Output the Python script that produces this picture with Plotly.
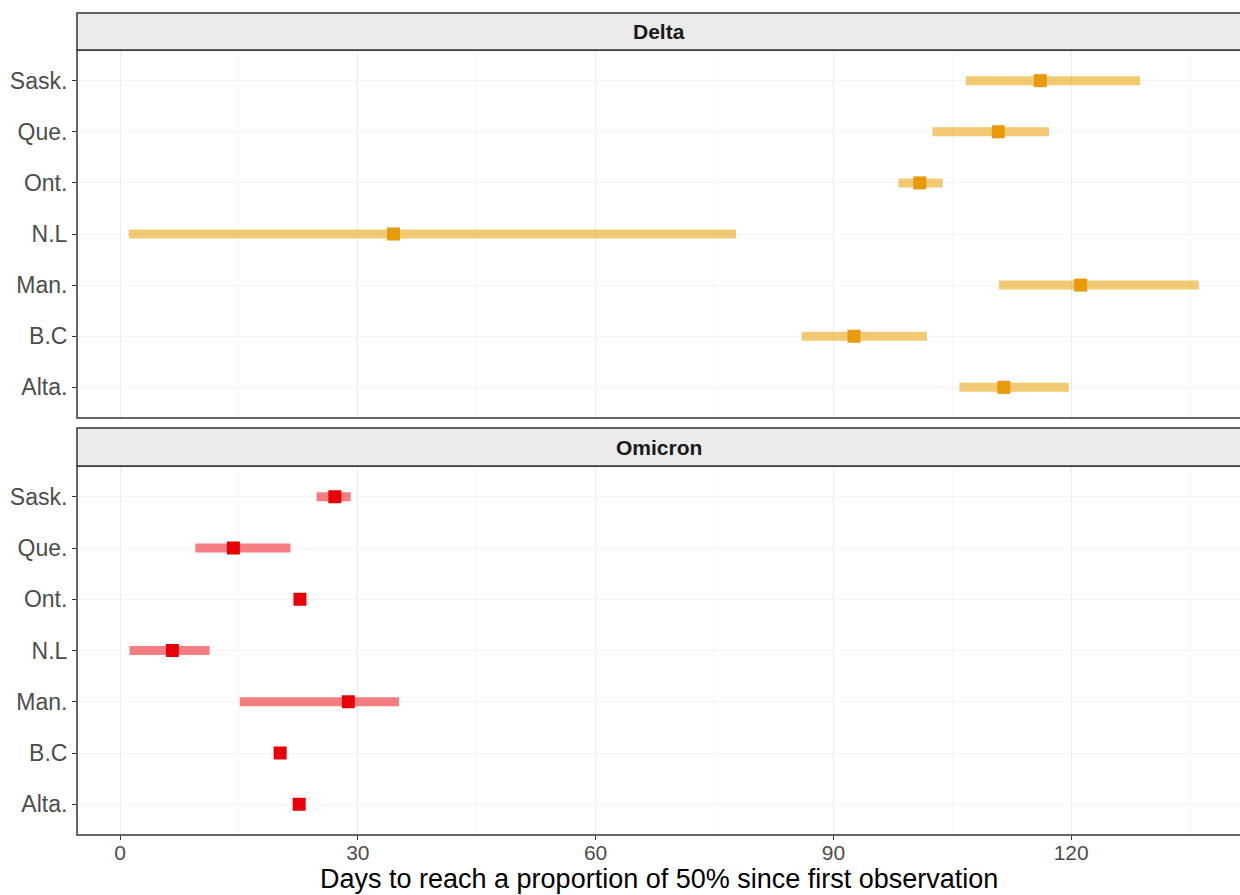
import plotly.graph_objects as go

provinces = ["Alta.", "B.C", "Man.", "N.L", "Ont.", "Que.", "Sask."]

delta_est = [111.5, 92.6, 121.2, 34.5, 100.9, 110.8, 116.1]
delta_lo = [105.9, 86.0, 110.9, 1.1, 98.2, 102.5, 106.7]
delta_hi = [119.7, 101.8, 136.1, 77.7, 103.8, 117.2, 128.7]

omicron_est = [22.6, 20.2, 28.8, 6.6, 22.7, 14.3, 27.1]
omicron_lo = [22.4, 20.0, 15.1, 1.2, 22.5, 9.5, 24.8]
omicron_hi = [22.8, 20.4, 35.2, 11.3, 22.9, 21.5, 29.1]

x_ticks = [0, 30, 60, 90, 120]
x_minor = [15, 45, 75, 105, 135]
x_title = "Days to reach a proportion of 50% since first observation"

FONT = "Liberation Sans, Arial, sans-serif"

fig = go.Figure()


def add_panel(est, lo, hi, line_col, pt_col, xa, ya):
    xs, ys = [], []
    for p, a, b in zip(provinces, lo, hi):
        xs += [a, b, None]
        ys += [p, p, None]
    fig.add_trace(go.Scatter(x=xs, y=ys, mode="lines",
                             line=dict(color=line_col, width=9),
                             xaxis=xa, yaxis=ya, showlegend=False,
                             hoverinfo="skip"))
    fig.add_trace(go.Scatter(x=est, y=provinces, mode="markers",
                             marker=dict(symbol="square", size=13, color=pt_col,
                                         line=dict(width=0)),
                             xaxis=xa, yaxis=ya, showlegend=False))


add_panel(delta_est, delta_lo, delta_hi, "rgba(230,159,0,0.55)", "#E99A0A", "x", "y")
add_panel(omicron_est, omicron_lo, omicron_hi, "rgba(235,20,25,0.55)", "#E80008", "x2", "y2")

W, H = 1240, 895
L, T, B = 77, 13, 60
plot_h = H - T - B


def py(pix):
    return (H - B - pix) / plot_h


axis_common = dict(
    range=[-5.43, 141.3],
    tickvals=x_ticks,
    showgrid=True, gridcolor="#EBEBEB", gridwidth=1,
    minor=dict(tickvals=x_minor, showgrid=True,
               gridcolor="#F5F5F5", gridwidth=1, ticks=""),
    showline=False,
    zeroline=False,
    tickfont=dict(family=FONT, size=21, color="#4D4D4D"),
)

y_common = dict(
    type="category", categoryorder="array", categoryarray=provinces,
    range=[-0.6, 6.6],
    showgrid=True, gridcolor="#F3F3F3", gridwidth=1,
    showline=False,
    zeroline=False, ticks="outside", ticklen=4, tickcolor="#333333",
    tickfont=dict(family=FONT, size=23, color="#4D4D4D"),
)

fig.update_layout(
    width=W, height=H,
    margin=dict(l=L, r=0, t=T, b=B, autoexpand=False),
    plot_bgcolor="white", paper_bgcolor="white",
    xaxis=dict(**axis_common, domain=[0, 1], anchor="y", showticklabels=False,
               ticks=""),
    yaxis=dict(**y_common, domain=[py(418), py(50)], anchor="x"),
    xaxis2=dict(**axis_common, domain=[0, 1], anchor="y2", matches="x",
                ticks="outside", ticklen=4, tickcolor="#333333",
                ticklabelstandoff=-5),
    yaxis2=dict(**y_common, domain=[0, py(466)], anchor="x2"),
)

border = dict(color="#333333", width=1.5)
# panel frames (right side lies beyond the picture edge)
for top, bot in [(50, 418), (466, 835)]:
    fig.add_shape(type="rect", xref="paper", yref="paper",
                  x0=0, x1=1.02, y0=py(bot), y1=py(top),
                  fillcolor="rgba(0,0,0,0)", line=border, layer="above")

strips = [("Delta", 13, 50), ("Omicron", 428, 466)]
for label, t, b in strips:
    fig.add_shape(type="rect", xref="paper", yref="paper",
                  x0=0, x1=1.02, y0=py(b), y1=py(t),
                  fillcolor="#EBEBEB", line=border, layer="above")
    fig.add_annotation(text="<b>" + label + "</b>", xref="paper", yref="paper",
                       x=0.5, y=(py(b) + py(t)) / 2, showarrow=False,
                       xanchor="center", yanchor="middle",
                       font=dict(family=FONT, size=21, color="#1A1A1A"))

fig.add_annotation(text=x_title, xref="paper", yref="paper",
                   x=0.5, y=py(879), showarrow=False,
                   xanchor="center", yanchor="middle",
                   font=dict(family=FONT, size=27, color="black"))

fig.write_html(
    "out.html",
    config={"displayModeBar": False},
    post_script="document.body.style.margin='0';"
                "document.documentElement.style.overflow='hidden';",
)
